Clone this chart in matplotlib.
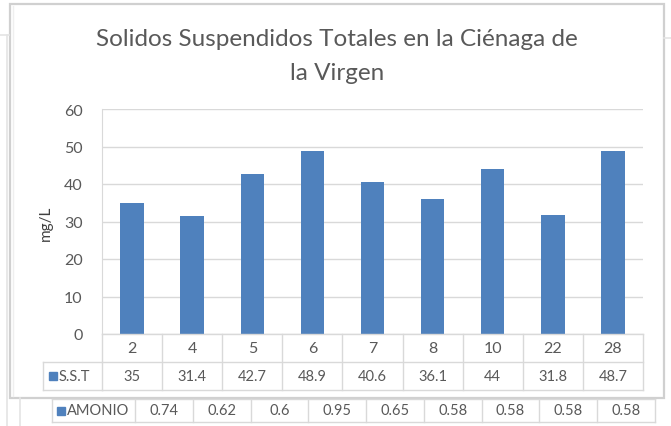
import matplotlib.pyplot as plt
import matplotlib.transforms as mtransforms
from matplotlib.lines import Line2D
from matplotlib.patches import Rectangle

plt.rcParams['font.family'] = ['Lato', 'DejaVu Sans']

# datos
estaciones = ["2", "4", "5", "6", "7", "8", "10", "22", "28"]
sst = [35, 31.4, 42.7, 48.9, 40.6, 36.1, 44, 31.8, 48.7]
amonio = [0.74, 0.62, 0.6, 0.95, 0.65, 0.58, 0.58, 0.58, 0.58]
yticks = [0, 10, 20, 30, 40, 50, 60]

W, H = 671, 427
AZUL = '#4F81BD'
GRIS_TXT = '#595959'
GRIS_LIN = '#D9D9D9'

fig = plt.figure(figsize=(W / 100, H / 100), dpi=100)


def fx(x):
    return x / W


def fy(y):
    return 1 - y / H


def linea(x0, y0, x1, y1, color=GRIS_LIN, lw=1.0, tr=None):
    if tr is None:
        fig.add_artist(Line2D([fx(x0), fx(x1)], [fy(y0), fy(y1)], color=color,
                              lw=lw, transform=fig.transFigure))
    else:
        fig.add_artist(Line2D([x0, x1], [fy(y0), fy(y1)], color=color,
                              lw=lw, transform=tr))


# marcos de fondo (fuera del grafico)
linea(0, 36, 9, 36, color='#E4E4E4', lw=1.2)
linea(664, 39, 671, 39, color='#E4E4E4', lw=1.2)
linea(7, 36, 7, 427, color='#E4E4E4', lw=1.2)
linea(20, 399, 20, 427, color='#E4E4E4', lw=1.2)

# borde del grafico
fig.add_artist(Rectangle((fx(9.5), fy(399)), fx(664) - fx(9.5), fy(5) - fy(399),
                         fill=False, edgecolor='#D0D0D0', lw=1.6,
                         transform=fig.transFigure))
linea(13, 7, 13, 397, color='#EFEFEF', lw=1.0)

# titulo
fig.text(fx(337), fy(39), "Solidos Suspendidos Totales en la Ciénaga de",
         ha='center', va='center', fontsize=17.5, color=GRIS_TXT)
fig.text(fx(337), fy(74), "la Virgen", ha='center', va='center',
         fontsize=17.5, color=GRIS_TXT)

# area de trazado
ax = fig.add_axes([fx(102), fy(335), fx(643) - fx(102), fy(110) - fy(335)])
x = list(range(len(estaciones)))
ax.bar(x, sst, width=0.39, color=AZUL, zorder=3)
ax.set_xlim(-0.5, len(estaciones) - 0.5)
ax.set_ylim(0, 60)
ax.set_yticks(yticks)
ax.set_yticklabels([str(v) for v in yticks], fontsize=11.5, color=GRIS_TXT)
ax.tick_params(axis='y', length=0, pad=14)
ax.set_xticks([])
ax.grid(axis='y', color=GRIS_LIN, lw=1.0, zorder=0)
for s in ['top', 'right', 'bottom']:
    ax.spines[s].set_visible(False)
ax.spines['left'].set_color(GRIS_LIN)
fig.text(fx(46), fy(223), "mg/L", rotation=90, ha='center', va='center',
         fontsize=11, color='#404040')

# tabla de datos
tr = mtransforms.blended_transform_factory(ax.transData, fig.transFigure)
x_izq, x_der = -0.5, len(estaciones) - 0.5
linea(x_izq, 335, x_der, 335, tr=tr)
linea(x_izq, 363, x_der, 363, tr=tr)
linea(x_izq, 391, x_der, 391, tr=tr)
linea(x_izq, 335, x_izq, 391, tr=tr)
linea(x_der, 335, x_der, 391, tr=tr)
for i in x[:-1]:
    linea(i + 0.5, 335, i + 0.5, 391, tr=tr)
# celda de leyenda
linea(43, 363, 102, 363)
linea(43, 391, 102, 391)
linea(43, 363, 43, 391)
fig.add_artist(Rectangle((fx(49), fy(381)), fx(57) - fx(49), fy(373) - fy(381),
                         color=AZUL, transform=fig.transFigure))
fig.text(fx(59), fy(377), "S.S.T", ha='left', va='center', fontsize=10.5,
         color=GRIS_TXT)
for i, (cat, v) in enumerate(zip(estaciones, sst)):
    fig.text(i, fy(349.5), cat, ha='center', va='center', fontsize=11.5,
             color=GRIS_TXT, transform=tr)
    fig.text(i, fy(377), f"{v:g}", ha='center', va='center', fontsize=10.5,
             color=GRIS_TXT, transform=tr)

# fila AMONIO (tabla recortada debajo)
a_top, a_bot = 400, 423
a_x0, a_lab = 52, 135
a_w = (655 - a_lab) / len(amonio)
linea(a_x0, a_top, 655, a_top)
linea(a_x0, a_bot, 655, a_bot)
linea(a_x0, a_top, a_x0, a_bot)
for k in range(len(amonio) + 1):
    xb = a_lab + k * a_w
    linea(xb, a_top, xb, a_bot)
fig.add_artist(Rectangle((fx(57), fy(416)), fx(65) - fx(57), fy(408) - fy(416),
                         color=AZUL, transform=fig.transFigure))
fig.text(fx(67), fy(411), "AMONIO", ha='left', va='center', fontsize=10.5,
         color=GRIS_TXT)
for k, v in enumerate(amonio):
    fig.text(fx(a_lab + (k + 0.5) * a_w), fy(411), f"{v:g}", ha='center',
             va='center', fontsize=10.5, color=GRIS_TXT)

fig.savefig('out.png', dpi=100, facecolor='white')
